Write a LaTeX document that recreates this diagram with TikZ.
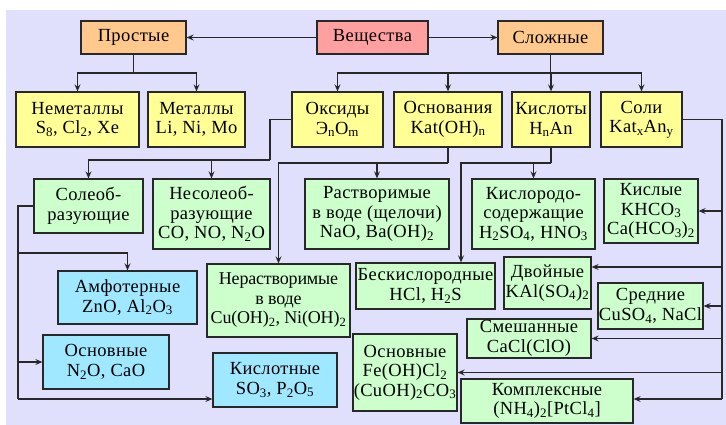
\documentclass[tikz,border=0pt]{standalone}
\usepackage{fontspec}
\setmainfont{Liberation Serif}[LetterSpace=2]
\usetikzlibrary{arrows.meta}
\newcommand\chsub[1]{\textsubscript{#1}}
\definecolor{bgfill}{RGB}{224,224,252}
\definecolor{pinkfill}{RGB}{255,160,160}
\definecolor{orangefill}{RGB}{255,200,140}
\definecolor{yellowfill}{RGB}{255,255,150}
\definecolor{greenfill}{RGB}{204,255,204}
\definecolor{bluefill}{RGB}{160,232,255}
\definecolor{edge}{RGB}{40,40,40}

\begin{document}
\begin{tikzpicture}[x=1pt,y=-1pt,
  box/.style={draw=edge, line width=1.3pt, inner sep=0pt, align=center,
    font=\fontsize{18.5}{19.5}\selectfont},
  narrow/.style={font=\fontsize{18}{19.5}\selectfont\addfontfeature{LetterSpace=-1}},
  pinkbox/.style={box, fill=pinkfill},
  orangebox/.style={box, fill=orangefill},
  yellowbox/.style={box, fill=yellowfill},
  greenbox/.style={box, fill=greenfill},
  bluebox/.style={box, fill=bluefill},
  link/.style={draw=edge, line width=1.2pt},
  arr/.style={link, -{Stealth[length=7pt,width=6pt,inset=2.5pt]}}
]
\useasboundingbox (0,0) rectangle (726,425);
\fill[bgfill] (6,10) rectangle (726,425);

% top level
\node[pinkbox,   minimum width=111pt, minimum height=33pt] (vesch) at (372.5,37.5) {Вещества};
\node[orangebox, minimum width=105pt, minimum height=33pt] (prost) at (133.5,37.5) {Простые};
\node[orangebox, minimum width=105pt, minimum height=33pt] (slozh) at (550.5,37.5) {Сложные};

% second level
\node[yellowbox, minimum width=123pt, minimum height=55pt] (nemet) at (77.5,119.5) {Неметаллы\\S\chsub{8}, Cl\chsub{2}, Xe};
\node[yellowbox, minimum width=97pt,  minimum height=55pt] (met)   at (196.5,119.5) {Металлы\\Li, Ni, Mo};
\node[yellowbox, minimum width=91pt,  minimum height=55pt] (oks)   at (337.5,119.5) {Оксиды\\Э\chsub{n}O\chsub{m}};
\node[yellowbox, minimum width=108pt, minimum height=55pt] (osn)   at (448,119.5) {Основания\\Kat(OH)\chsub{n}};
\node[yellowbox, minimum width=78pt,  minimum height=55pt] (kisl)  at (551,119.5) {Кислоты\\H\chsub{n}An};
\node[yellowbox, minimum width=81pt,  minimum height=55pt] (soli)  at (641.5,119.5) {Соли\\Kat\chsub{x}An\chsub{y}};

% third level
\node[greenbox, minimum width=109pt, minimum height=54pt] (soleob)   at (88.5,206) {Солеоб-\\разующие};
\node[greenbox, minimum width=117pt, minimum height=70pt] (nesol)    at (211.5,214) {Несолеоб-\\разующие\\CO, NO, N\chsub{2}O};
\node[greenbox, minimum width=144pt, minimum height=70pt] (rastv)    at (377,214) {Растворимые\\в воде (щелочи)\\NaO, Ba(OH)\chsub{2}};
\node[greenbox, minimum width=123pt, minimum height=70pt] (kislorod) at (533.5,214) {Кислородо-\\содержащие\\H\chsub{2}SO\chsub{4}, HNO\chsub{3}};
\node[greenbox, minimum width=94pt,  minimum height=64pt] (kislye)   at (651,211) {Кислые\\KHCO\chsub{3}\\Ca(HCO\chsub{3})\chsub{2}};

% lower level
\node[bluebox,  minimum width=139pt, minimum height=53pt] (amfo)     at (127.5,297.5) {Амфотерные\\ZnO, Al\chsub{2}O\chsub{3}};
\node[greenbox, narrow, minimum width=143pt, minimum height=73pt] (nerastv)  at (278.5,300.5) {Нерастворимые\\в воде\\Cu(OH)\chsub{2}, Ni(OH)\chsub{2}};
\node[greenbox, minimum width=139pt, minimum height=46pt] (beskisl)  at (425.5,286) {Бескислородные\\HCl, H\chsub{2}S};
\node[greenbox, minimum width=87pt,  minimum height=52pt] (dvoin)    at (547.5,283) {Двойные\\KAl(SO\chsub{4})\chsub{2}};
\node[greenbox, minimum width=105pt, minimum height=46pt] (sredn)    at (650.5,306) {Средние\\CuSO\chsub{4}, NaCl};
\node[greenbox, minimum width=124pt, minimum height=39pt] (smesh)    at (529,338.5) {Смешанные\\CaCl(ClO)};
\node[bluebox,  minimum width=126pt, minimum height=54pt] (osnoks)   at (106,362) {Основные\\N\chsub{2}O, CaO};
\node[bluebox,  minimum width=124pt, minimum height=54pt] (kislotn)  at (275,380) {Кислотные\\SO\chsub{3}, P\chsub{2}O\chsub{5}};
\node[greenbox, minimum width=104pt, minimum height=77pt] (osnsol)   at (405,372.5) {Основные\\Fe(OH)Cl\chsub{2}\\(CuOH)\chsub{2}CO\chsub{3}};
\node[greenbox, minimum width=172pt, minimum height=44pt] (kompl)    at (547,401) {Комплексные\\(NH\chsub{4})\chsub{2}[PtCl\chsub{4}]};

% junction points of the trees
\coordinate (pj) at (133.5,73);
\coordinate (sj) at (550.5,73);
\coordinate (oj) at (270,160);
\coordinate (bj) at (448,163);
\coordinate (kj) at (551,163);
\coordinate (rt) at (722,399);
\coordinate (lt) at (18,399);
\coordinate (la) at (18,253);
\coordinate (bk) at ([xshift=35.5pt]beskisl.north);
\coordinate (dv) at ([yshift=16pt]dvoin.east);

% substances -> simple / complex
\draw[arr] (vesch.west) -- (prost.east);
\draw[arr] (vesch.east) -- (slozh.west);

% simple substances
\draw[link] (prost.south) -- (pj);
\draw[arr] (pj) -| (nemet.north);
\draw[arr] (pj) -| (met.north);

% complex substances
\draw[link] (slozh.south) -- (sj);
\draw[arr] (sj) -| (oks.north);
\draw[arr] (sj) -| (osn.north);
\draw[arr] (sj) -| (kisl.north);
\draw[arr] (sj) -| (soli.north);

% oxides
\draw[link] (oks.west) -| (oj);
\draw[arr] (oj) -| (soleob.north);
\draw[arr] (oj) -| (nesol.north);

% bases
\draw[link] (osn.south) -- (bj);
\draw[arr] (bj) -| (rastv.north);
\draw[arr] (bj) -| (nerastv.north);

% acids
\draw[link] (kisl.south) -- (kj);
\draw[arr] (kj) -| (kislorod.north);
\draw[arr] (kj) -| (bk);

% salt-forming oxides
\draw[link] (soleob.west) -| (lt);
\draw[arr] (la) -| (amfo.north);
\draw[arr] (lt |- osnoks.west) -- (osnoks.west);
\draw[arr] (lt) -- (lt -| kislotn.west);

% salts
\draw[link] (soli.east) -| (rt);
\draw[arr] (rt |- kislye.east) -- (kislye.east);
\draw[arr] (rt |- dv) -- (dv);
\draw[arr] (rt |- sredn.east) -- (sredn.east);
\draw[arr] (rt |- smesh.east) -- (smesh.east);
\draw[arr] (rt |- osnsol.east) -- (osnsol.east);
\draw[arr] (rt) -- (rt -| kompl.east);
\end{tikzpicture}
\end{document}
